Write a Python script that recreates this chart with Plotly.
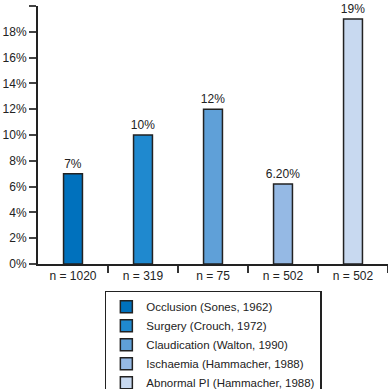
import plotly.graph_objects as go

series_names = ["Occlusion (Sones, 1962)", "Surgery (Crouch, 1972)", "Claudication (Walton, 1990)",
                "Ischaemia (Hammacher, 1988)", "Abnormal PI (Hammacher, 1988)"]
tick_labels = ["n = 1020", "n = 319", "n = 75", "n = 502", "n = 502"]
values = [7, 10, 12, 6.2, 19]
value_labels = ["7%", "10%", "12%", "6.20%", "19%"]
colors = ["#0071BD", "#1F89CF", "#5FA0D8", "#95B9E4", "#C8D9F0"]
y_ticks = [0, 2, 4, 6, 8, 10, 12, 14, 16, 18, 20]
y_tick_labels = [f"{v}%" for v in y_ticks]

FONT = "Liberation Sans, Arial, sans-serif"
fig = go.Figure()
for i, name in enumerate(series_names):
    fig.add_trace(go.Bar(
        x=[i], y=[values[i]], name=name, width=0.27,
        marker=dict(color=colors[i], line=dict(color="#222222", width=1.5)),
        text=[value_labels[i]], textposition="outside", cliponaxis=False,
        constraintext="none",
        textfont=dict(family=FONT, size=12, color="#222222"),
    ))

fig.update_layout(
    width=388, height=389,
    margin=dict(l=38, r=0, t=6, b=125, autoexpand=False),
    barmode="overlay",
    plot_bgcolor="white", paper_bgcolor="white",
    font=dict(family=FONT, size=12, color="#222222"),
    showlegend=True,
    legend=dict(x=0.191, xanchor="left", y=-0.104, yanchor="top",
                bordercolor="#222222", borderwidth=1.5,
                font=dict(family=FONT, size=11.5, color="#222222"),
                tracegroupgap=0, itemwidth=30),
    xaxis=dict(range=[-0.5, 4.5], tickvals=list(range(5)), ticktext=tick_labels,
               ticks="", showgrid=False, zeroline=False, automargin=False,
               showline=True, linecolor="#222222", linewidth=2,
               minor=dict(tickvals=[0.5, 1.5, 2.5, 3.5, 4.5], ticks="outside", ticklen=7,
                          tickcolor="#333333", tickwidth=1.5, showgrid=False),
               tickfont=dict(family=FONT, size=12, color="#222222")),
    yaxis=dict(range=[0, 20], tickvals=y_ticks, ticktext=y_tick_labels,
               ticks="outside", ticklen=7, tickcolor="#444444", tickwidth=1.5,
               showgrid=False, zeroline=False, automargin=False,
               showline=True, linecolor="#222222", linewidth=2,
               tickfont=dict(family=FONT, size=12, color="#222222")),
)
fig.write_html("out.html", config={"displayModeBar": False},
               post_script="document.body.style.margin='0';document.body.style.overflow='hidden';")
